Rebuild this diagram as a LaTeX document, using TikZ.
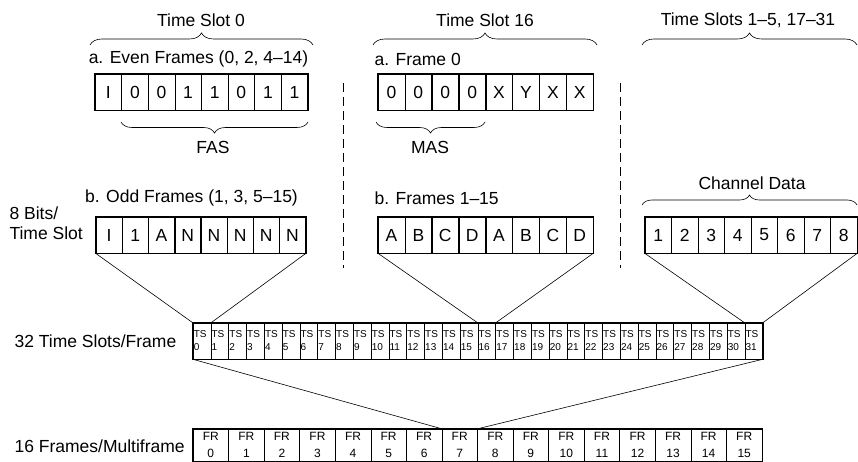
\documentclass[tikz,border=0pt]{standalone}
\usepackage{fontspec}
\setsansfont{Liberation Sans}
\usepackage{tikz}
\usetikzlibrary{decorations.pathreplacing}

\begin{document}
\begin{tikzpicture}[x=1pt,y=-1pt,font=\sffamily\fontsize{17.5}{20}\selectfont,
  bitcell/.style={draw,line width=0.5pt,minimum width=26.6pt,minimum height=36pt,inner sep=0pt},
  rowframe/.style={line width=1.3pt},
  tscell/.style={draw,line width=0.5pt,text width=16.2pt,minimum height=36pt,inner sep=0.8pt,align=left,font=\sffamily\fontsize{10}{13}\selectfont},
  frcell/.style={draw,line width=0.5pt,minimum width=35.56pt,minimum height=32pt,inner sep=0pt,align=center,font=\sffamily\fontsize{12}{17}\selectfont},
  slotbrace/.style={decorate,decoration={brace,amplitude=12pt},line width=0.6pt},
  divider/.style={line width=0.6pt,dash pattern=on 9pt off 5pt}]
 \useasboundingbox (0,0) rectangle (858,462);
 % headings
 \node (ts0lbl) at (201,20) {Time Slot 0};
 \node (ts16lbl) at (485,20) {Time Slot 16};
 \node (tsnlbl) at (748,20) {Time Slots 1--5, 17--31};
 \draw[slotbrace] (90,45) -- (313,45);
 \draw[slotbrace] (373,45) -- (597,45);
 \draw[slotbrace] (642,45) -- (857,45);
 \draw[divider] (343,83) -- (343,268);
 \draw[divider] (620,83) -- (620,268);
 % Time Slot 0
 \node (evenlbl) at (198.5,59) {a. Even Frames (0, 2, 4--14)};
 \foreach \b [count=\i] in {I,0,0,1,1,0,1,1}
   \node[bitcell] (even\i) at (95+\i*26.6-13.3,92) {\b};
 \draw[rowframe] (even1.north west) rectangle (even8.south east);
 \draw[slotbrace,decoration={amplitude=11pt}] (308,122) -- (121,122);
 \node (fas) at (213,147) {FAS};
 \node (oddlbl) at (191.5,198) {b. Odd Frames (1, 3, 5--15)};
 \foreach \b [count=\i] in {I,1,A,N,N,N,N,N}
   \node[bitcell] (odd\i) at (96+\i*26.2-13.1,235) {\b};
 \draw[rowframe] (odd1.north west) rectangle (odd8.south east);
 % Time Slot 16
 \node[anchor=west] (f0lbl) at (371,59) {a. Frame 0};
 \foreach \b [count=\i] in {0,0,0,0,X,Y,X,X}
   \node[bitcell] (zero\i) at (378+\i*26.9-13.45,92) {\b};
 \draw[rowframe] (zero1.north west) rectangle (zero8.south east);
 \draw[slotbrace,decoration={amplitude=11pt}] (485,122) -- (376,122);
 \node (mas) at (430,147) {MAS};
 \node[anchor=west] (frlbl) at (371,198) {b. Frames 1--15};
 \foreach \b [count=\i] in {A,B,C,D,A,B,C,D}
   \node[bitcell] (mf\i) at (378+\i*26.9-13.45,235) {\b};
 \draw[rowframe] (mf1.north west) rectangle (mf8.south east);
 % Time Slots 1-5, 17-31
 \node (chlbl) at (752,183) {Channel Data};
 \draw[slotbrace,decoration={amplitude=10pt}] (642,205) -- (857,205);
 \foreach \b [count=\i] in {1,...,8}
   \node[bitcell] (ch\i) at (645+\i*26.5-13.25,235) {\b};
 \draw[rowframe] (ch1.north west) rectangle (ch8.south east);
 \node[align=left,anchor=west] (bitslbl) at (6,223) {8 Bits/\\Time Slot};
 % frame of 32 slots
 \node[anchor=west] (framelbl) at (11,341) {32 Time Slots/Frame};
 \foreach \i in {0,...,31}
   \node[tscell] (ts\i) at (193+\i*17.8+8.9,341) {TS\\\i};
 \draw[rowframe] (ts0.north west) rectangle (ts31.south east);
 % multiframe
 \node[anchor=west] (mflbl) at (11,446) {16 Frames/Multiframe};
 \foreach \i in {0,...,15}
   \node[frcell] (fr\i) at (193+\i*35.56+17.78,445) {FR\\\i};
 \draw[rowframe] (fr0.north west) rectangle (fr15.south east);
 % fan-out lines
 \draw[line width=0.6pt] (odd1.south west) -- (ts0.north west);
 \draw[line width=0.6pt] (odd8.south east) -- (ts0.north east);
 \draw[line width=0.6pt] (mf1.south west) -- (ts16.north west);
 \draw[line width=0.6pt] (mf8.south east) -- (ts16.north east);
 \draw[line width=0.6pt] (ch1.south west) -- (ts31.north west);
 \draw[line width=0.6pt] (ch8.south east) -- (ts31.north east);
 \draw[line width=0.6pt] (ts0.south west) -- (fr7.north west);
 \draw[line width=0.6pt] (ts31.south east) -- (fr7.north east);
\end{tikzpicture}
\end{document}
